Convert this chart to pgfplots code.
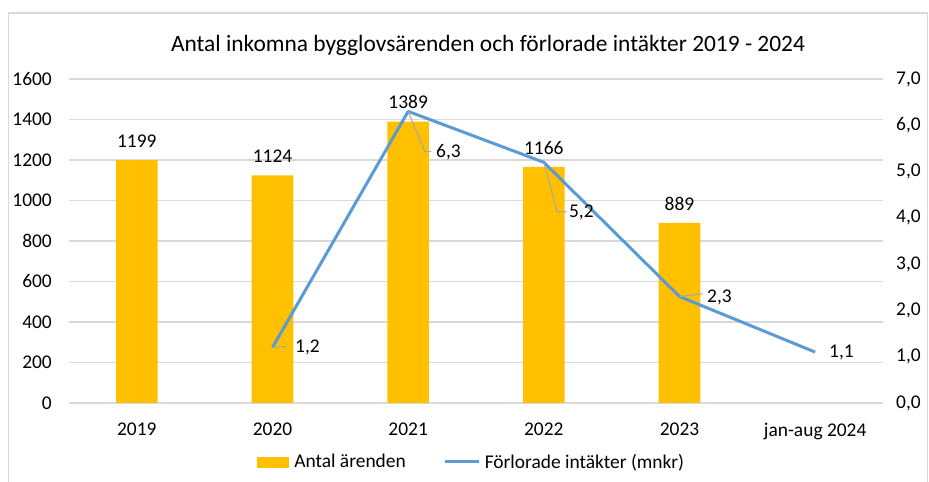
\documentclass[border=0pt]{standalone}
\usepackage{pgfplots}
\pgfplotsset{compat=1.18}
\usepackage{fontspec}
\setmainfont{Carlito}
\definecolor{barcol}{HTML}{FFC000}
\definecolor{linecol}{HTML}{5B9BD5}
\definecolor{gridcol}{HTML}{D9D9D9}
\definecolor{leadcol}{HTML}{A6A6A6}
\begin{document}
\begin{tikzpicture}[x=1bp,y=1bp]
\useasboundingbox (0,0) rectangle (929,482);
\draw[gridcol, line width=1.2bp] (8.5,-2) -- (8.5,469) -- (927.5,469) -- (927.5,-2);
\node[font=\fontsize{23.5}{27}\selectfont] at (488,437) {Antal inkomna bygglovsärenden och förlorade intäkter 2019 - 2024};
\begin{axis}[
  at={(69bp,79bp)}, anchor=south west, scale only axis,
  width=814bp, height=324bp,
  xmin=-0.5, xmax=5.5, ymin=0, ymax=1600,
  axis line style={draw=none}, major tick length=0pt,
  ytick={0,200,...,1600},
  ymajorgrids, grid style={color=gridcol, line width=1.2bp},
  xtick={0,1,2,3,4,5},
  xticklabels={2019,2020,2021,2022,2023,jan-aug 2024},
  /pgf/number format/assume math mode=true,
  /pgf/number format/1000 sep={},
  tick label style={font=\fontsize{19.5}{22}\selectfont},
  yticklabel style={inner sep=0pt, xshift=-17bp},
  xticklabel style={inner sep=0pt, yshift=-20bp},
  ybar, bar width=41.6bp,
  nodes near coords,
  every node near coord/.append style={font=\fontsize{19.5}{22}\selectfont, inner sep=0pt, yshift=12.5bp},
  clip=false,
]
\addplot[fill=barcol, draw=none] coordinates {(0,1199)(1,1124)(2,1389)(3,1166)(4,889)};
\end{axis}
\begin{axis}[
  at={(69bp,79bp)}, anchor=south west, scale only axis,
  width=814bp, height=324bp,
  xmin=-0.5, xmax=5.5, ymin=0, ymax=7,
  axis line style={draw=none}, major tick length=0pt,
  xtick=\empty,
  ytick={0,1,...,7},
  yticklabel pos=right,
  /pgf/number format/assume math mode=true,
  yticklabel={\pgfmathprintnumber[fixed,fixed zerofill,precision=1,use comma]{\tick}},
  tick label style={font=\fontsize{19.5}{22}\selectfont},
  yticklabel style={inner sep=0pt, anchor=west, xshift=13bp},
  clip=false,
  legend style={at={(0.4945,-0.182)}, anchor=center, draw=none, fill=none,
    legend columns=2, font=\fontsize{19.5}{22}\selectfont,
    /tikz/every even column/.append style={column sep=36bp}},
]
\addlegendimage{area legend, legend image code/.code={\fill[barcol] (0bp,-5bp) rectangle (31bp,5bp); \path (35bp,0bp);}}
\addlegendentry{Antal ärenden}
\addplot[color=linecol, line width=3bp, line join=round,
  legend image code/.code={\draw[linecol, line width=3bp] (0bp,0bp) -- (34bp,0bp); \path (36bp,0bp);}]
  coordinates {(1,1.2)(2,6.3)(3,5.2)(4,2.3)(5,1.1)};
\addlegendentry{Förlorade intäkter (mnkr)}
\draw[leadcol, line width=1bp] (axis cs:1,1.2) -- (axis cs:1.1,1.22);
\draw[leadcol, line width=1bp] (axis cs:2,6.3) -- (axis cs:2.124,5.43) -- (axis cs:2.17,5.43);
\draw[leadcol, line width=1bp] (axis cs:3,5.2) -- (axis cs:3.097,4.13) -- (axis cs:3.17,4.13);
\draw[leadcol, line width=1bp] (axis cs:4,2.3) -- (axis cs:4.17,2.36);
\node[anchor=west, inner sep=0pt, font=\fontsize{19.5}{22}\selectfont] at (axis cs:1.166,1.21) {1,2};
\node[anchor=west, inner sep=0pt, font=\fontsize{19.5}{22}\selectfont] at (axis cs:2.205,5.41) {6,3};
\node[anchor=west, inner sep=0pt, font=\fontsize{19.5}{22}\selectfont] at (axis cs:3.185,4.11) {5,2};
\node[anchor=west, inner sep=0pt, font=\fontsize{19.5}{22}\selectfont] at (axis cs:4.203,2.29) {2,3};
\node[anchor=west, inner sep=0pt, font=\fontsize{19.5}{22}\selectfont] at (axis cs:5.102,1.09) {1,1};
\end{axis}
\end{tikzpicture}
\end{document}
